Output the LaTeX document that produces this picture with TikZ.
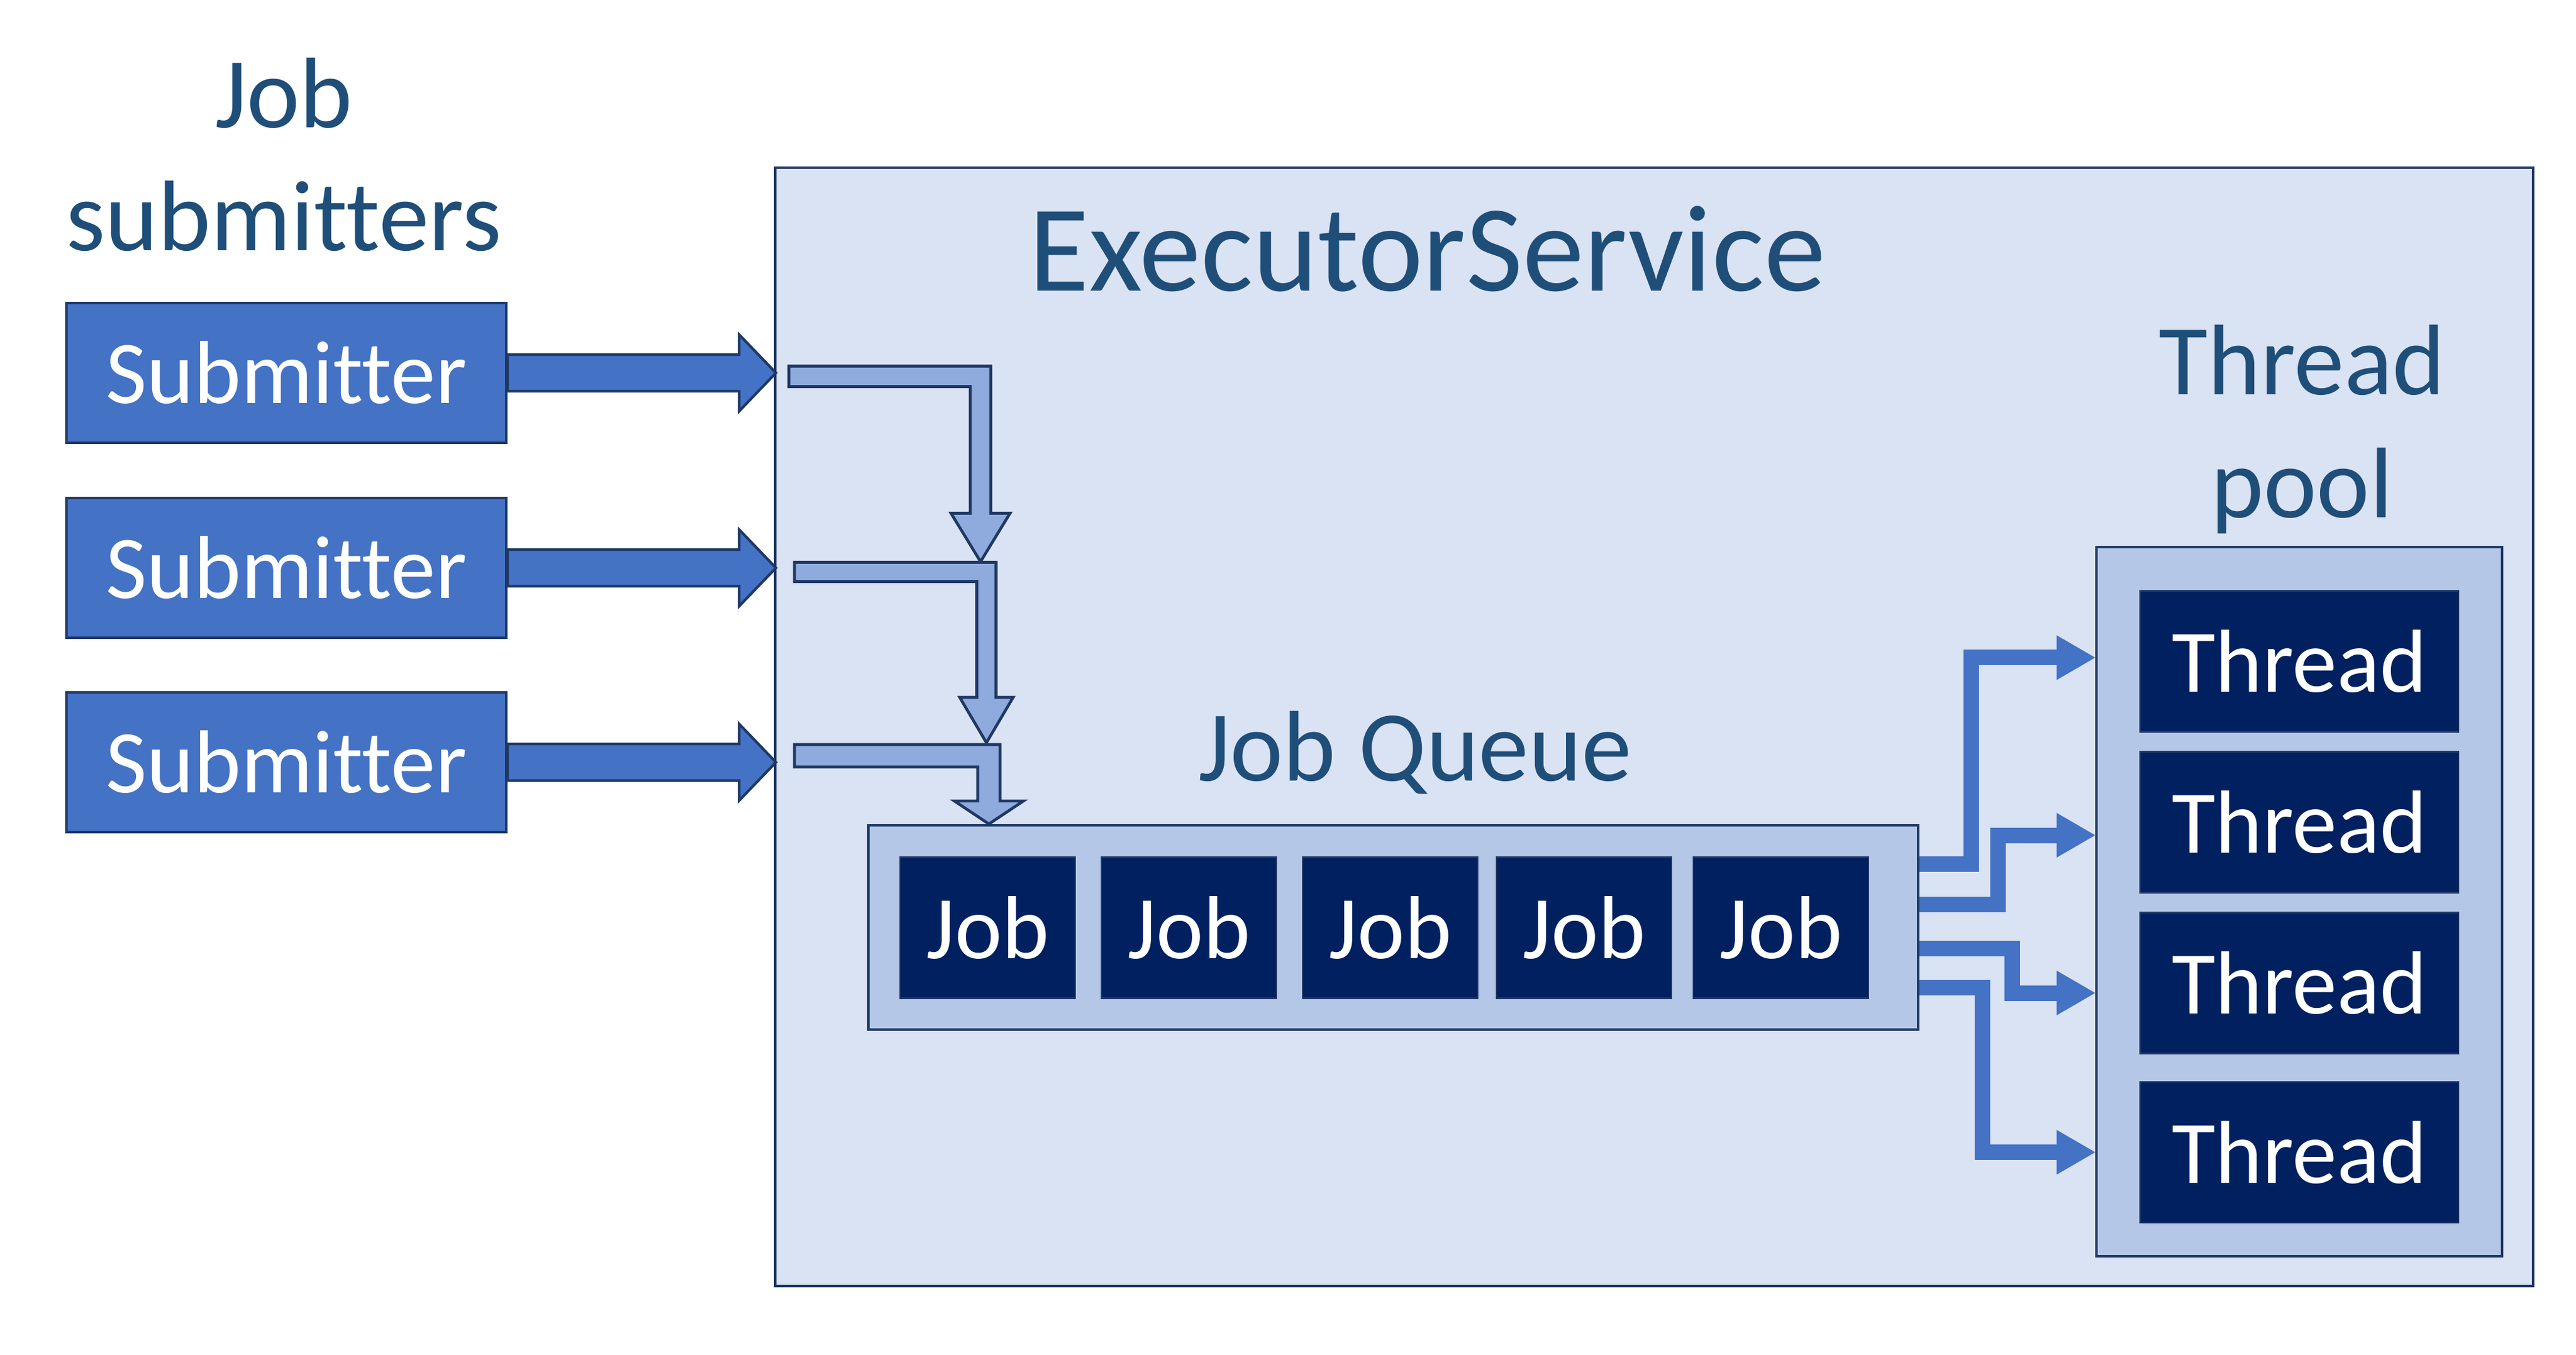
\documentclass[tikz,border=0pt]{standalone}
\usepackage{fontspec}
\setmainfont{Carlito}[Ligatures={NoCommon,NoContextual}]
\usetikzlibrary{arrows.meta,calc}

\definecolor{edge}{HTML}{1F3864}
\definecolor{label}{HTML}{1F4E79}
\definecolor{service}{HTML}{DAE3F3}
\definecolor{holder}{HTML}{B4C7E7}
\definecolor{submit}{HTML}{4472C4}
\definecolor{worker}{HTML}{002060}
\definecolor{inflow}{HTML}{8FAADC}

\tikzset{
    heading/.style={text=label, font=\fontsize{46}{56.6}\selectfont, align=center, inner sep=0pt},
    service box/.style={draw=edge, fill=service, line width=1.2pt, inner sep=0pt},
    holder box/.style={draw=edge, fill=holder, line width=1.2pt, inner sep=0pt},
    submit box/.style={draw=edge, fill=submit, line width=1.2pt, text=white, minimum width=7.08cm, minimum height=2.25cm, font=\fontsize{41}{49}\selectfont, inner sep=0pt},
    worker box/.style={draw=edge, fill=worker, line width=0.8pt, text=white, minimum height=2.27cm, font=\fontsize{41}{49}\selectfont, inner sep=0pt},
    fat arrow/.style={draw=edge, fill=submit, line width=1.2pt},
    bent/.style={draw=edge, fill=inflow, line width=1.3pt},
    feed/.style={draw=submit, line width=0.25cm, -{Triangle[length=0.62cm,width=0.72cm,line width=0pt]}}
}

% bent arrow: #1 start, #2 tip, #3 half shaft, #4 head length, #5 half head
\newcommand{\bentarrow}[5]{%
    \draw[bent] let \p1=(#1), \p2=(#2) in
        (\x1,\y1+#3) -- (\x2+#3,\y1+#3) -- (\x2+#3,\y2+#4) -- (\x2+#5,\y2+#4)
        -- (\x2,\y2) -- (\x2-#5,\y2+#4) -- (\x2-#3,\y2+#4) -- (\x2-#3,\y1-#3)
        -- (\x1,\y1-#3) -- cycle;}

\begin{document}
\begin{tikzpicture}
        \useasboundingbox (0,0) rectangle (41.47,21.81);

        %big service box, queue and pool
        \node[service box, minimum width=28.30cm, minimum height=18.01cm] (exec) at (26.63,10.105) {};
        \node[holder box, minimum width=16.90cm, minimum height=3.29cm] (queue) at (22.43,6.875) {};
        \node[holder box, minimum width=6.53cm, minimum height=11.42cm] (pool) at (37.015,7.29) {};

        %labels
        \node[heading, anchor=base] (subtitle) at (4.57,17.77) {Job\\submitters};
        \node[heading, font=\fontsize{56.5}{67}\selectfont, anchor=base] (exectitle) at (22.98,17.12) {ExecutorService};
        \node[heading, anchor=base] (queuetitle) at (22.78,9.23) {Job Queue};
        \node[heading, anchor=base] (pooltitle) at (37.06,13.47) {Thread\\pool};

        %submitters with their arrows
        \foreach \y [count=\i] in {15.805,12.665,9.535}
            \node[submit box] (sub\i) at (4.61,\y) {Submitter};
        \foreach \i in {1,2,3}
            \draw[fat arrow] (sub\i.east) ++(0,0.295) -- ++(3.73,0) -- ++(0,0.32) -- ++(0.59,-0.615)
                -- ++(-0.59,-0.615) -- ++(0,0.32) -- ++(-3.73,0) -- cycle;

        %jobs in the queue
        \foreach \x [count=\i] in {15.90,19.14,22.38,25.50,28.67}
            \node[worker box, minimum width=2.82cm] (job\i) at (\x,6.87) {Job};

        %threads in the pool
        \foreach \y [count=\i] in {11.16,8.57,5.98,3.255}
            \node[worker box, minimum width=5.13cm] (thr\i) at (37.015,\y) {Thread};

        %bent arrows into the queue
        \coordinate (in1) at (12.70,15.75);
        \coordinate (in2) at (12.79,12.60);
        \coordinate (in3) at (12.79,9.64);
        \coordinate (tip1) at (15.785,12.765);
        \coordinate (tip2) at (15.88,9.85);
        \coordinate (drop) at (15.92,0);
        \bentarrow{in1}{tip1}{0.165cm}{0.78cm}{0.475cm}
        \bentarrow{in2}{tip2}{0.155cm}{0.73cm}{0.43cm}
        \bentarrow{in3}{drop |- queue.north}{0.18cm}{0.37cm}{0.555cm}

        %queue feeds the threads
        \draw[feed] ($(queue.east)+(0,1.025)$) -- ++(0.83,0) |- ($(pool.west |- thr1)+(0,0.06)$);
        \draw[feed] ($(queue.east)+(0,0.375)$) -- ++(1.26,0) |- ($(pool.west |- thr2)+(0,-0.21)$);
        \draw[feed] ($(queue.east)+(0,-0.335)$) -- ++(1.49,0) |- ($(pool.west |- thr3)+(0,-0.16)$);
        \draw[feed] ($(queue.east)+(0,-0.965)$) -- ++(1.01,0) |- (pool.west |- thr4);
\end{tikzpicture}
\end{document}
